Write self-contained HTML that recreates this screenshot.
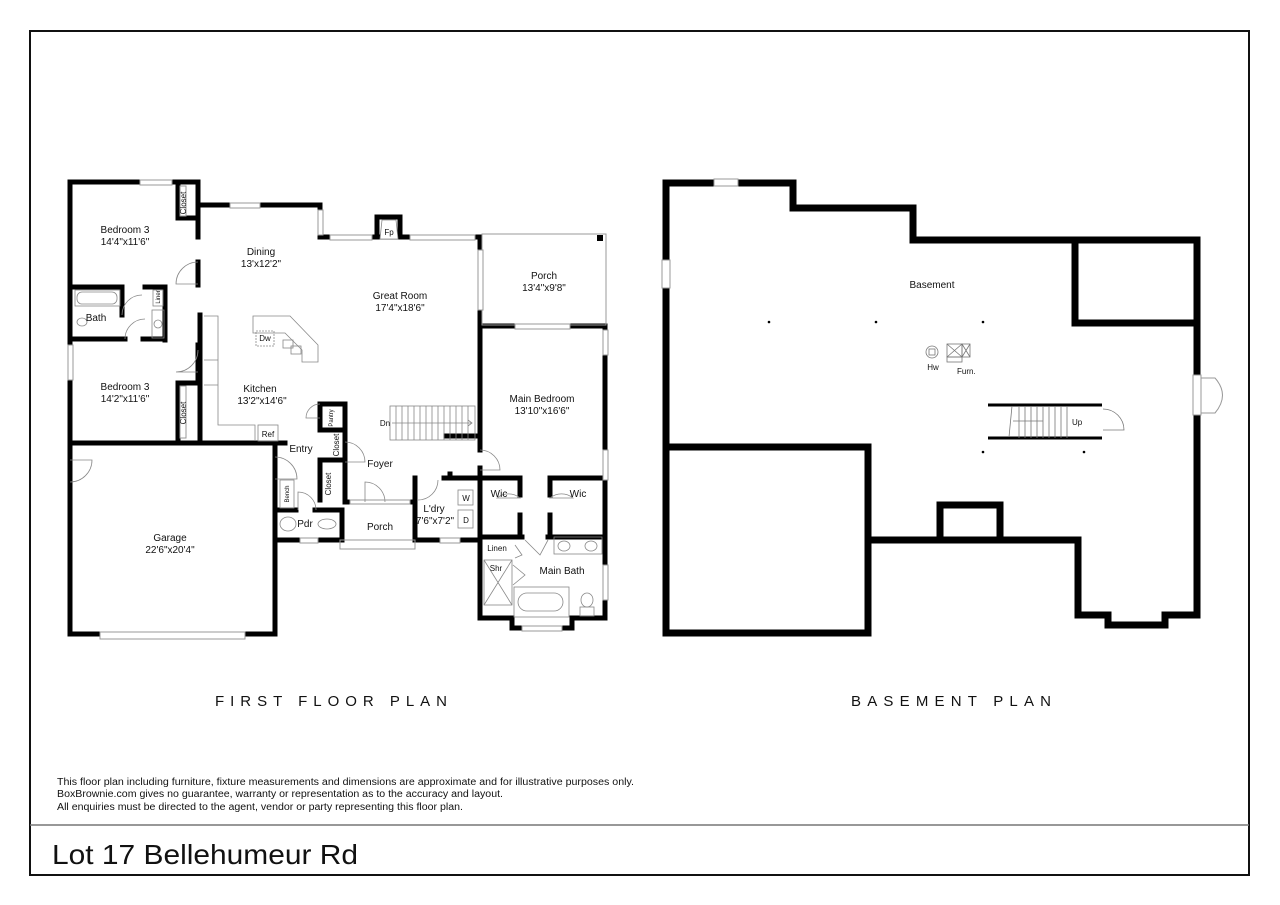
<!DOCTYPE html>
<html><head><meta charset="utf-8"><style>
body{margin:0;background:#fff;width:1280px;height:905px;overflow:hidden}
svg{display:block}
text{font-family:"Liberation Sans",sans-serif;fill:#111}
</style></head><body>
<svg width="1280" height="905" viewBox="0 0 1280 905" xmlns="http://www.w3.org/2000/svg">
<rect x="30" y="31" width="1219" height="844" fill="none" stroke="#111" stroke-width="2"/>
<line x1="30" y1="825" x2="1249" y2="825" stroke="#777" stroke-width="1.5"/>
<text x="52" y="864" font-size="28" textLength="306" lengthAdjust="spacingAndGlyphs">Lot 17 Bellehumeur Rd</text>
<text x="57" y="785" font-size="10" textLength="577" lengthAdjust="spacingAndGlyphs">This floor plan including furniture, fixture measurements and dimensions are approximate and for illustrative purposes only.</text>
<text x="57" y="797" font-size="10" textLength="446" lengthAdjust="spacingAndGlyphs">BoxBrownie.com gives no guarantee, warranty or representation as to the accuracy and layout.</text>
<text x="57" y="810" font-size="10" textLength="406" lengthAdjust="spacingAndGlyphs">All enquiries must be directed to the agent, vendor or party representing this floor plan.</text>
<text x="215" y="706" font-size="15" textLength="232" lengthAdjust="spacing">FIRST FLOOR PLAN</text>
<text x="851" y="706" font-size="15" textLength="200" lengthAdjust="spacing">BASEMENT PLAN</text>

<!-- BASEMENT -->
<g fill="none" stroke="#000" stroke-width="7" stroke-linejoin="miter">
<polyline points="666,447 666,183 793,183 793,208 913,208 913,240 1197,240 1197,615 1165,615 1165,625 1108,625 1108,615 1078,615 1078,540 868,540"/>
<rect x="666" y="447" width="202" height="186"/>
<polyline points="1075,240 1075,323 1197,323"/>
<polyline points="940,540 940,505 1000,505 1000,540"/>
</g>
<g stroke="#999" stroke-width="1" fill="#fff">
<rect x="714" y="179" width="24" height="7"/>
<rect x="662" y="260" width="8" height="28"/>
<rect x="1193" y="375" width="8" height="40"/>
<path d="M1201,378 L1215,378 Q1230,395 1215,413 L1201,413" fill="none"/>
</g>
<g stroke="#000" stroke-width="3"><line x1="988" y1="405" x2="1102" y2="405"/><line x1="988" y1="438" x2="1102" y2="438"/></g>
<g stroke="#777" stroke-width="0.8" fill="none">
<line x1="1013" y1="421" x2="1043" y2="421"/>
<path d="M1012,406 L1009,437 M1019,406v32 M1025,406v32 M1031,406v32 M1037,406v32 M1043,406v32 M1049,406v32 M1055,406v32 M1061,406v32 M1067,406v32"/>
<path d="M1103,409 A21,21 0 0 1 1124,430 L1103,430"/>
<circle cx="932" cy="352" r="6"/><rect x="929" y="349" width="6" height="6"/>
<rect x="947" y="344" width="15" height="13"/><path d="M947,344 L962,357 M962,344 L947,357"/>
<rect x="962" y="344" width="8" height="13"/><path d="M962,344 L970,357 M970,344 L962,357"/>
<rect x="947" y="357" width="15" height="5"/>
</g>
<text x="1072" y="425" font-size="8">Up</text>
<text x="933" y="370" font-size="8" text-anchor="middle">Hw</text>
<text x="957" y="374" font-size="8">Furn.</text>
<text x="932" y="288" font-size="10" text-anchor="middle">Basement</text>
<g fill="#000"><circle cx="769" cy="322" r="1.3"/><circle cx="876" cy="322" r="1.3"/><circle cx="983" cy="322" r="1.3"/><circle cx="983" cy="452" r="1.3"/><circle cx="1084" cy="452" r="1.3"/></g>

<!-- FIRST FLOOR -->
<g fill="none" stroke="#000" stroke-width="5" stroke-linecap="square">
<polyline points="198,237 198,182 70,182 70,443 285,443"/>
<line x1="198" y1="262" x2="198" y2="285"/>
<polyline points="198,205 320,205 320,237 480,237 480,440"/>
<polyline points="377,237 377,217 400,217 400,237"/>
<line x1="200" y1="315" x2="200" y2="443"/>
<line x1="198" y1="345" x2="198" y2="380"/>
<line x1="73" y1="287" x2="122" y2="287"/>
<line x1="73" y1="339" x2="125" y2="339"/>
<line x1="122" y1="287" x2="122" y2="315"/>
<line x1="145" y1="287" x2="165" y2="287"/>
<line x1="165" y1="287" x2="165" y2="340"/>
<line x1="143" y1="339" x2="165" y2="339"/>
<polyline points="178,218 178,182"/><line x1="178" y1="218" x2="198" y2="218"/>
<polyline points="178,383 178,443"/><line x1="178" y1="383" x2="198" y2="383"/>
<polyline points="70,443 70,634 100,634"/>
<polyline points="245,634 275,634 275,457"/>
<line x1="275" y1="510" x2="275" y2="540"/>
<polyline points="275,540 300,540"/><line x1="318" y1="540" x2="342" y2="540"/>
<line x1="275" y1="510" x2="296" y2="510"/>
<line x1="315" y1="510" x2="342" y2="510"/>
<line x1="342" y1="510" x2="342" y2="540"/>
<polyline points="320,430 320,404 345,404 345,500"/>
<line x1="320" y1="430" x2="345" y2="430"/>
<line x1="320" y1="460" x2="345" y2="460"/>
<line x1="320" y1="460" x2="320" y2="500"/>
<line x1="275" y1="445" x2="275" y2="457"/>
<line x1="345" y1="502" x2="350" y2="502"/>
<line x1="410" y1="502" x2="415" y2="502"/>
<polyline points="415,478 415,540 440,540"/><line x1="460" y1="540" x2="480" y2="540"/>
<polyline points="444,478 480,478"/>
<line x1="450" y1="474" x2="450" y2="478"/>
<line x1="446" y1="436" x2="480" y2="436"/>
<line x1="480" y1="436" x2="480" y2="450"/>
<polyline points="480,326 512,326"/><line x1="570" y1="326" x2="605" y2="326"/>
<line x1="605" y1="326" x2="605" y2="330"/>
<line x1="605" y1="355" x2="605" y2="450"/>
<line x1="605" y1="480" x2="605" y2="565"/>
<line x1="605" y1="600" x2="605" y2="618"/>
<line x1="480" y1="326" x2="480" y2="348"/>
<line x1="480" y1="468" x2="480" y2="618"/>
<polyline points="480,618 512,618 512,628 522,628"/>
<polyline points="562,628 572,628 572,618 605,618"/>
<line x1="480" y1="478" x2="520" y2="478"/><line x1="520" y1="478" x2="520" y2="495"/>
<line x1="550" y1="478" x2="605" y2="478"/><line x1="550" y1="478" x2="550" y2="495"/>
<line x1="520" y1="515" x2="520" y2="535"/><line x1="550" y1="515" x2="550" y2="535"/>
<line x1="480" y1="537" x2="522" y2="537"/>
<line x1="548" y1="537" x2="605" y2="537"/>
</g>
<g stroke="#999" stroke-width="1" fill="#fff">
<rect x="482" y="234" width="124" height="91" fill="none"/>
<rect x="140" y="180" width="32" height="5"/>
<rect x="230" y="203" width="30" height="5"/>
<rect x="318" y="210" width="5" height="25"/>
<rect x="330" y="235" width="42" height="5"/>
<rect x="410" y="235" width="65" height="5"/>
<rect x="478" y="250" width="5" height="60"/>
<rect x="515" y="324" width="55" height="5"/>
<rect x="603" y="330" width="5" height="25"/>
<rect x="603" y="450" width="5" height="30"/>
<rect x="603" y="565" width="5" height="35"/>
<rect x="68" y="345" width="5" height="35"/>
<rect x="100" y="632" width="145" height="7"/>
<rect x="300" y="538" width="18" height="5"/>
<rect x="440" y="538" width="20" height="5"/>
<rect x="522" y="626" width="40" height="5"/>
<rect x="350" y="500" width="60" height="4"/>
<rect x="340" y="540" width="75" height="9" fill="none"/>
<rect x="180" y="186" width="6" height="30"/>
<rect x="180" y="386" width="6" height="52"/>
</g>
<rect x="597" y="235" width="6" height="6" fill="#000"/>
<g stroke="#888" stroke-width="0.8" fill="none">
<path d="M382,220 L396,220 L398,239 L380,239 Z" fill="#fff"/>
<path d="M204,316 L218,316 L218,425 L255,425 L255,440 M204,360 L218,360 M204,385 L218,385"/>
<rect x="258" y="425" width="20" height="16"/>
<path d="M253,316 L290,316 L318,345 L318,362 L302,362 L302,350 L285,333 L253,333 Z"/>
<rect x="256" y="331" width="18" height="15" stroke-dasharray="2,1"/>
<rect x="283" y="340" width="10" height="8"/><rect x="291" y="346" width="10" height="8"/>
<rect x="75" y="290" width="45" height="16"/><rect x="77" y="292" width="40" height="12" rx="5"/>
<rect x="152" y="310" width="12" height="28"/><circle cx="158" cy="324" r="4"/>
<ellipse cx="82" cy="322" rx="5" ry="4"/>
<rect x="153" y="290" width="10" height="16"/>
<path d="M198,262 A22,22 0 0 0 176,284 L198,284 M198,350 A22,22 0 0 1 176,372 L198,372"/>
<path d="M122,315 A20,20 0 0 1 142,295 M125,339 A20,20 0 0 1 145,319"/>
<path d="M70,460 L92,460 A22,22 0 0 1 70,482"/>
<path d="M275,457 A22,22 0 0 1 297,479 L275,479"/>
<path d="M320,404 A14,14 0 0 0 306,418 L320,418 M345,442 A20,20 0 0 1 365,462 L345,462"/>
<path d="M365,502 L365,482 A20,20 0 0 1 385,502 M298,510 L298,492 A18,18 0 0 1 316,510"/>
<path d="M418,500 A20,20 0 0 0 438,480"/>
<path d="M480,450 A20,20 0 0 1 500,470 L480,470"/>
<rect x="280" y="480" width="14" height="28"/>
<ellipse cx="288" cy="524" rx="8" ry="7"/><ellipse cx="327" cy="524" rx="9" ry="5"/>
<rect x="458" y="490" width="15" height="15"/><rect x="458" y="510" width="15" height="18"/>
<rect x="554" y="537" width="48" height="17"/><ellipse cx="564" cy="546" rx="6" ry="5"/><ellipse cx="591" cy="546" rx="6" ry="5"/>
<rect x="484" y="560" width="28" height="45"/><path d="M484,560 L512,605 M512,560 L484,605"/>
<rect x="514" y="587" width="55" height="30"/><rect x="518" y="593" width="45" height="18" rx="9"/>
<ellipse cx="587" cy="600" rx="6" ry="7"/><rect x="580" y="607" width="14" height="9"/>
<path d="M497,498 A18,18 0 0 1 520,498 Z M573,498 A18,18 0 0 0 550,498 Z"/>
<path d="M525,540 L540,555 L548,540 M515,545 L522,555 L515,558"/>
<path d="M513,565 L525,575 L513,585"/>
<rect x="390" y="406" width="85" height="34"/>
<path d="M396,406v34 M402,406v34 M408,406v34 M414,406v34 M420,406v34 M426,406v34 M432,406v34 M438,406v34 M444,406v34 M450,406v34 M456,406v34 M462,406v34 M468,406v34 M392,423 L472,423 M468,420 L472,423 L468,426"/>
</g>
<g font-size="10" text-anchor="middle">
<text x="125" y="233">Bedroom 3</text><text x="125" y="245">14'4"x11'6"</text>
<text x="261" y="255">Dining</text><text x="261" y="267">13'x12'2"</text>
<text x="400" y="299">Great Room</text><text x="400" y="311">17'4"x18'6"</text>
<text x="544" y="279">Porch</text><text x="544" y="291">13'4"x9'8"</text>
<text x="96" y="321">Bath</text>
<text x="125" y="390">Bedroom 3</text><text x="125" y="402">14'2"x11'6"</text>
<text x="260" y="392">Kitchen</text><text x="262" y="404">13'2"x14'6"</text>
<text x="542" y="402">Main Bedroom</text><text x="542" y="414">13'10"x16'6"</text>
<text x="301" y="452">Entry</text>
<text x="380" y="467">Foyer</text>
<text x="380" y="530">Porch</text>
<text x="434" y="512">L'dry</text><text x="435" y="524">7'6"x7'2"</text>
<text x="499" y="497">Wic</text><text x="578" y="497">Wic</text>
<text x="562" y="574">Main Bath</text>
<text x="305" y="527">Pdr</text>
<text x="170" y="541">Garage</text><text x="170" y="553">22'6"x20'4"</text>
</g>
<g font-size="8" text-anchor="middle">
<text x="389" y="235">Fp</text><text x="265" y="341">Dw</text><text x="268" y="437">Ref</text>
<text x="385" y="426">Dn</text><text x="497" y="551">Linen</text><text x="496" y="571">Shr</text>
<text x="466" y="501">W</text><text x="466" y="523">D</text>
</g>
<g font-size="8" text-anchor="middle">
<text transform="translate(186,203) rotate(-90)">Closet</text>
<text transform="translate(186,413) rotate(-90)">Closet</text>
<text transform="translate(339,445) rotate(-90)">Closet</text>
<text transform="translate(331,484) rotate(-90)">Closet</text>
<text transform="translate(333,418) rotate(-90)" font-size="6">Pantry</text>
<text transform="translate(289,494) rotate(-90)" font-size="6">Bench</text>
<text transform="translate(160,297) rotate(-90)" font-size="6">Liner</text>
</g>
</svg>
</body></html>
